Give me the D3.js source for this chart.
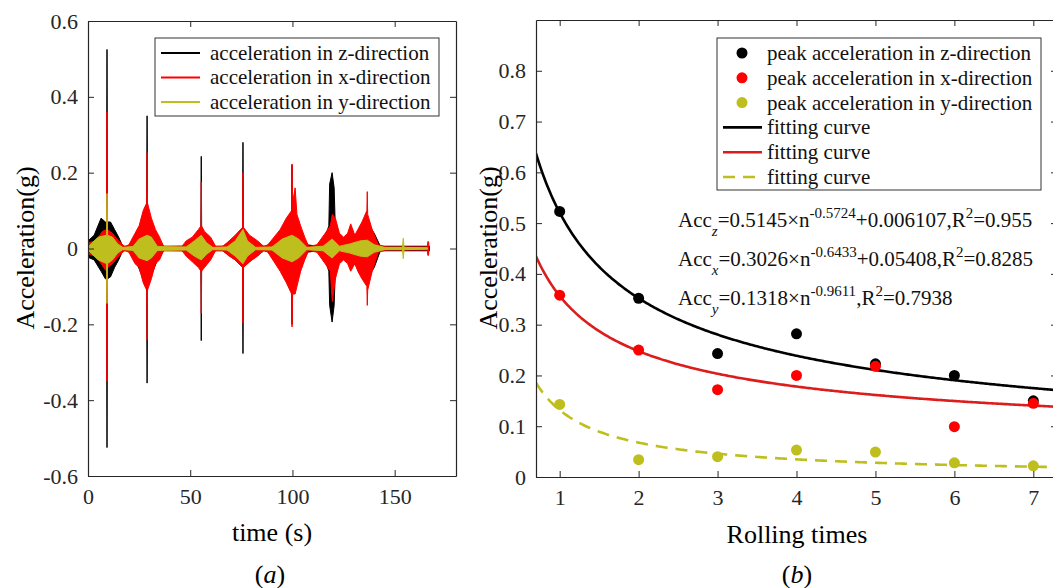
<!DOCTYPE html>
<meta charset="utf-8">
<style>
body { margin: 0; background: #fff; }
svg { display: block; font-family: "Liberation Serif", "Times New Roman", serif; }
svg text { font-family: "Liberation Serif", "Times New Roman", serif; }
.axis path, .axis line { stroke: #262626; }
.axis text { font-size: 22px; fill: #262626; }
</style>
<svg width="1053" height="588"></svg>
<script src="https://d3js.org/d3.v7.min.js"></script>
<script>
// ---- panel (a): vibration records, kept as envelopes [time, upper, lower] ----
var envZ = [[0,0.02,-0.023],[3,0.035,-0.03],[6.4,0.08,-0.06],[8.5,0.07,-0.08],[9.1,0.07,-0.08],[9.3,0.525,-0.525],[9.5,0.07,-0.08],
  [11,0.07,-0.075],[13,0.05,-0.05],[15,0.03,-0.03],[17,0.006,-0.006],[21,0.006,-0.006],[24,0.04,-0.04],[27,0.08,-0.08],
  [28.7,0.09,-0.1],[28.9,0.35,-0.355],[29.1,0.09,-0.1],[31,0.06,-0.07],[34,0.03,-0.03],[37,0.006,-0.006],[47,0.006,-0.006],
  [50,0.02,-0.02],[54,0.035,-0.035],[55.2,0.05,-0.05],[55.4,0.243,-0.243],[55.6,0.05,-0.05],[58,0.03,-0.03],[62,0.006,-0.006],
  [66,0.006,-0.006],[72,0.025,-0.03],[75.6,0.045,-0.05],[75.8,0.28,-0.277],[76,0.045,-0.05],[80,0.025,-0.03],[86,0.006,-0.006],
  [88,0.008,-0.008],[94,0.04,-0.05],[99.6,0.07,-0.09],[99.8,0.22,-0.2],[100,0.07,-0.09],[103,0.05,-0.07],[107,0.01,-0.01],
  [112,0.006,-0.006],[116,0.03,-0.03],[117.8,0.06,-0.06],[118.2,0.17,-0.15],[119.4,0.2,-0.194],[120.4,0.16,-0.15],[121,0.05,-0.05],
  [123,0.025,-0.025],[127,0.02,-0.02],[132,0.04,-0.05],[136.6,0.07,-0.08],[140,0.04,-0.05],[143,0.006,-0.006],[167,0.006,-0.006]];
var envX = [[0,0.015,-0.015],[4,0.02,-0.02],[7,0.045,-0.045],[9.1,0.05,-0.06],[9.2,0.36,-0.35],[9.4,0.36,-0.35],[9.5,0.05,-0.05],
  [12,0.04,-0.04],[15,0.02,-0.02],[18,0.005,-0.005],[20,0.01,-0.01],[23,0.04,-0.04],[25,0.06,-0.05],[27,0.1,-0.09],[28.7,0.12,-0.11],
  [28.9,0.253,-0.242],[29.1,0.12,-0.11],[31,0.08,-0.08],[33,0.05,-0.04],[35,0.03,-0.03],[37,0.005,-0.005],[46,0.006,-0.006],
  [48,0.02,-0.02],[51,0.03,-0.035],[54,0.05,-0.05],[55.3,0.06,-0.06],[55.4,0.175,-0.171],[55.5,0.06,-0.06],[57,0.045,-0.05],
  [60,0.03,-0.03],[62.5,0.005,-0.005],[66,0.006,-0.006],[69,0.02,-0.02],[72,0.035,-0.03],[75.6,0.056,-0.05],[75.8,0.2,-0.197],
  [76,0.056,-0.05],[79,0.035,-0.035],[83,0.02,-0.02],[86,0.005,-0.005],[88,0.01,-0.01],[91,0.03,-0.035],[94,0.05,-0.06],
  [97,0.08,-0.09],[99.6,0.1,-0.12],[99.8,0.223,-0.207],[100.1,0.12,-0.12],[101.3,0.16,-0.12],[102.2,0.09,-0.1],[104,0.06,-0.06],
  [106,0.03,-0.03],[108,0.005,-0.005],[112,0.01,-0.01],[116,0.04,-0.04],[118.5,0.06,-0.06],[119.5,0.09,-0.14],[121,0.08,-0.08],
  [123,0.04,-0.04],[125,0.03,-0.03],[127,0.04,-0.04],[128.5,0.065,-0.06],[130.5,0.035,-0.04],[132,0.05,-0.06],[134,0.07,-0.08],
  [136.4,0.1,-0.1],[136.6,0.15,-0.15],[136.8,0.09,-0.11],[139,0.05,-0.06],[142,0.01,-0.01],[146,0.004,-0.004],[166,0.004,-0.004],
  [166.2,0.018,-0.018],[166.6,0.018,-0.018],[166.8,0.004,-0.004]];
var envY = [[0,0.004,-0.004],[2,0.015,-0.015],[5,0.03,-0.03],[9.1,0.035,-0.04],[9.3,0.145,-0.145],[9.5,0.035,-0.04],[12,0.03,-0.03],
  [14.5,0.012,-0.012],[17,0.003,-0.003],[22,0.005,-0.005],[25,0.025,-0.025],[28.9,0.035,-0.032],[31,0.03,-0.025],[34,0.005,-0.005],
  [48,0.004,-0.004],[52,0.02,-0.02],[55.4,0.035,-0.03],[58,0.015,-0.015],[61,0.003,-0.003],[68,0.004,-0.004],[72,0.02,-0.02],
  [75.8,0.05,-0.04],[78,0.02,-0.02],[82,0.003,-0.003],[90,0.004,-0.004],[95,0.025,-0.025],[99.8,0.035,-0.035],[103,0.025,-0.025],
  [107,0.003,-0.003],[115,0.006,-0.006],[119.4,0.025,-0.025],[123,0.006,-0.006],[128,0.012,-0.012],[133,0.02,-0.02],
  [136.6,0.022,-0.022],[140,0.01,-0.01],[145,0.003,-0.003],[153.8,0.003,-0.003],[154.2,0.027,-0.027],[154.6,0.003,-0.003],
  [166,0.002,-0.002]];
var legendA = ["acceleration in z-direction", "acceleration in x-direction", "acceleration in y-direction"];
var ticksTime = [0, 50, 100, 150];
var ticksAccA = [-0.6, -0.4, -0.2, 0, 0.2, 0.4, 0.6];

// ---- panel (b): peak accelerations per rolling pass ----
var rolling = [1, 2, 3, 4, 5, 6, 7];
var peakZ = [0.523, 0.352, 0.243, 0.282, 0.223, 0.200, 0.150];
var peakX = [0.358, 0.250, 0.172, 0.200, 0.218, 0.099, 0.145];
var peakY = [0.143, 0.034, 0.040, 0.053, 0.049, 0.028, 0.022];
// fitted a*n^b + c, as printed on the chart
var fitZ = [0.5145, -0.5724, 0.006107];
var fitX = [0.3026, -0.6433, 0.05408];
var fitY = [0.1318, -0.9611, 0];
var ticksAccB = [0, 0.1, 0.2, 0.3, 0.4, 0.5, 0.6, 0.7, 0.8];

var black = "#000", red = "#ff0000", yel = "#bebe1e", redFit = "#dd1c1c";
var svg = d3.select("svg");
svg.append("rect").attr("width", 1053).attr("height", 588).attr("fill", "#fff");
var defs = svg.append("defs");

function box(g, x, y, tx, ty, fx, fy) {
  var x0 = x.range()[0], x1 = x.range()[1], y0 = y.range()[0], y1 = y.range()[1];
  g.append("g").attr("class", "axis").attr("transform", "translate(0," + y0 + ")")
    .call(d3.axisBottom(x).tickValues(tx).tickSizeInner(-6).tickSizeOuter(0).tickPadding(12).tickFormat(fx))
    .call(s => s.selectAll("text").attr("dy", "0.72em"));
  g.append("g").attr("class", "axis").attr("transform", "translate(0," + y1 + ")")
    .call(d3.axisTop(x).tickValues(tx).tickSizeInner(-6).tickSizeOuter(0).tickFormat(""));
  g.append("g").attr("class", "axis").attr("transform", "translate(" + x0 + ",0)")
    .call(d3.axisLeft(y).tickValues(ty).tickSizeInner(-6).tickSizeOuter(0).tickPadding(10).tickFormat(fy));
  g.append("g").attr("class", "axis").attr("transform", "translate(" + x1 + ",0)")
    .call(d3.axisRight(y).tickValues(ty).tickSizeInner(-6).tickSizeOuter(0).tickFormat(""));
  g.selectAll(".axis").attr("font-family", null).attr("font-size", null);
  g.selectAll(".axis path").attr("stroke-width", 1.2);
}
var fmtAcc = d => d === 0 ? "0" : d.toFixed(1);
var fmtInt = d => String(d);

// ===== panel (a) =====
var xa = d3.scaleLinear().domain([0, 180]).range([88, 456]);
var ya = d3.scaleLinear().domain([-0.6, 0.6]).range([476, 21]);
var ga = svg.append("g");
defs.append("clipPath").attr("id", "clipA").append("rect")
  .attr("x", 88).attr("y", 21).attr("width", 368).attr("height", 455);
var area = d3.area().x(d => xa(d[0])).y0(d => ya(d[2])).y1(d => ya(d[1]));
var pa = ga.append("g").attr("clip-path", "url(#clipA)");
[[envZ, black], [envX, red], [envY, yel]].forEach(function(s) {
  pa.append("path").datum(s[0]).attr("d", area).attr("fill", s[1])
    .attr("stroke", s[1]).attr("stroke-width", 1).attr("stroke-linejoin", "round");
});
box(ga, xa, ya, ticksTime, ticksAccA, fmtInt, fmtAcc);

var legA = ga.append("g");
legA.append("rect").attr("x", 155).attr("y", 38).attr("width", 284).attr("height", 78)
  .attr("fill", "#fff").attr("stroke", "#333").attr("stroke-width", 1);
[black, red, yel].forEach(function(c, i) {
  var yy = 53 + i * 24.5;
  legA.append("line").attr("x1", 161).attr("x2", 200).attr("y1", yy).attr("y2", yy)
    .attr("stroke", c).attr("stroke-width", 2);
  legA.append("text").attr("x", 210).attr("y", yy).attr("dy", "0.33em")
    .attr("font-size", 21).attr("fill", "#111").text(legendA[i]);
});

ga.append("text").attr("x", 272).attr("y", 532).attr("dy", "0.33em").attr("text-anchor", "middle")
  .attr("font-size", 26).text("time (s)");
ga.append("text").attr("transform", "translate(25,248) rotate(-90)").attr("dy", "0.33em")
  .attr("text-anchor", "middle").attr("font-size", 26).text("Acceleration(g)");
var capA = ga.append("text").attr("x", 270).attr("y", 574).attr("dy", "0.33em")
  .attr("text-anchor", "middle").attr("font-size", 26);
capA.append("tspan").text("(");
capA.append("tspan").attr("font-style", "italic").text("a");
capA.append("tspan").text(")");

// ===== panel (b) =====
var xb = d3.scaleLinear().domain([0.7, 7.3]).range([536, 1057]);
var yb = d3.scaleLinear().domain([0, 0.9]).range([477, 20]);
var gb = svg.append("g");
defs.append("clipPath").attr("id", "clipB").append("rect")
  .attr("x", 536).attr("y", 20).attr("width", 521).attr("height", 457);
var pb = gb.append("g").attr("clip-path", "url(#clipB)");

function fitPts(p) {
  return d3.range(0.7, 7.31, 0.02).map(n => [n, p[0] * Math.pow(n, p[1]) + p[2]]);
}
var line = d3.line().x(d => xb(d[0])).y(d => yb(d[1]));
var series = [[peakZ, fitZ, black, black, null], [peakX, fitX, red, redFit, null], [peakY, fitY, yel, yel, "12,8"]];
series.forEach(function(s) {
  pb.append("path").datum(fitPts(s[1])).attr("d", line).attr("fill", "none")
    .attr("stroke", s[3]).attr("stroke-width", 2.6).attr("stroke-dasharray", s[4]);
});
series.forEach(function(s) {
  pb.selectAll(null).data(s[0]).enter().append("circle")
    .attr("cx", (d, i) => xb(rolling[i])).attr("cy", d => yb(d)).attr("r", 5.5).attr("fill", s[2]);
});
box(gb, xb, yb, rolling, ticksAccB, fmtInt, fmtAcc);

var legB = gb.append("g");
legB.append("rect").attr("x", 717).attr("y", 38).attr("width", 324).attr("height", 152)
  .attr("fill", "#fff").attr("stroke", "#333").attr("stroke-width", 1);
var legBText = ["peak acceleration in z-direction", "peak acceleration in x-direction",
  "peak acceleration in y-direction", "fitting curve", "fitting curve", "fitting curve"];
legBText.forEach(function(t, i) {
  var yy = 53 + i * 24.8;
  if (i < 3) {
    legB.append("circle").attr("cx", 742).attr("cy", yy).attr("r", 5.5).attr("fill", [black, red, yel][i]);
  } else {
    legB.append("line").attr("x1", 723).attr("x2", 762).attr("y1", yy).attr("y2", yy)
      .attr("stroke", [black, redFit, yel][i - 3]).attr("stroke-width", 2.6)
      .attr("stroke-dasharray", i === 5 ? "12,8" : null);
  }
  legB.append("text").attr("x", 767).attr("y", yy).attr("dy", "0.33em")
    .attr("font-size", 21).attr("fill", "#111").text(t);
});

// fitted equations
var eqs = [
  ["z", "0.5145", "-0.5724", "+0.006107,R", "=0.955"],
  ["x", "0.3026", "-0.6433", "+0.05408,R", "=0.8285"],
  ["y", "0.1318", "-0.9611", ",R", "=0.7938"]
];
eqs.forEach(function(e, i) {
  var t = gb.append("text").attr("x", 678).attr("y", 227 + i * 39).attr("font-size", 21).attr("fill", "#111");
  t.append("tspan").text("Acc");
  t.append("tspan").attr("dy", 9).attr("font-size", 15).attr("font-style", "italic").text(e[0]);
  t.append("tspan").attr("dy", -9).text("=" + e[1] + "×n");
  t.append("tspan").attr("dy", -9).attr("font-size", 15).text(e[2]);
  t.append("tspan").attr("dy", 9).text(e[3]);
  t.append("tspan").attr("dy", -9).attr("font-size", 15).text("2");
  t.append("tspan").attr("dy", 9).text(e[4]);
});

gb.append("text").attr("x", 797).attr("y", 534).attr("dy", "0.33em").attr("text-anchor", "middle")
  .attr("font-size", 26).text("Rolling times");
gb.append("text").attr("transform", "translate(488,248) rotate(-90)").attr("dy", "0.33em")
  .attr("text-anchor", "middle").attr("font-size", 26).text("Acceleration(g)");
var capB = gb.append("text").attr("x", 797).attr("y", 574).attr("dy", "0.33em")
  .attr("text-anchor", "middle").attr("font-size", 26);
capB.append("tspan").text("(");
capB.append("tspan").attr("font-style", "italic").text("b");
capB.append("tspan").text(")");
</script>
